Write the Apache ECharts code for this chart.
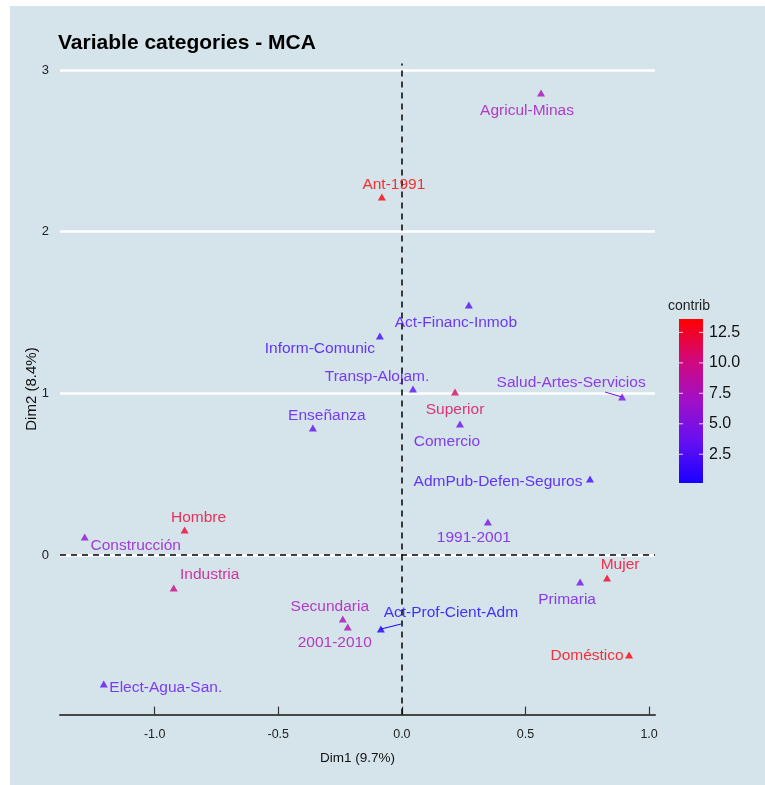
<!DOCTYPE html>
<html>
<head>
<meta charset="utf-8">
<script src="https://cdn.jsdelivr.net/npm/echarts@6/dist/echarts.min.js"></script>
<style>
  html, body { margin: 0; padding: 0; background: #ffffff; width: 765px; height: 785px; overflow: hidden; }
  #chart { position: absolute; left: 10px; top: 6px; width: 755px; height: 779px; background: #d5e4eb; }
</style>
</head>
<body>
<div id="chart"></div>
<script>
// ---- data ----
const categories = ['Agricul-Minas', 'Ant-1991', 'Act-Financ-Inmob', 'Inform-Comunic', 'Transp-Alojam.',
  'Superior', 'Salud-Artes-Servicios', 'Enseñanza', 'Comercio', 'AdmPub-Defen-Seguros', '1991-2001',
  'Hombre', 'Construcción', 'Industria', 'Mujer', 'Primaria', 'Secundaria', '2001-2010',
  'Act-Prof-Cient-Adm', 'Doméstico', 'Elect-Agua-San.'];
const dim1 = [0.563, -0.081, 0.271, -0.089, 0.045, 0.215, 0.891, -0.360, 0.235, 0.761, 0.348,
  -0.879, -1.283, -0.923, 0.830, 0.721, -0.239, -0.219, -0.085, 0.919, -1.206];
const dim2 = [2.858, 2.214, 1.546, 1.355, 1.027, 1.008, 0.977, 0.786, 0.810, 0.470, 0.204,
  0.155, 0.111, -0.204, -0.142, -0.167, -0.396, -0.445, -0.458, -0.619, -0.798];
const contrib = [7.3, 13.6, 2.6, 2.0, 3.2, 11.0, 4.8, 3.2, 3.8, 2.0, 4.5,
  12.2, 6.2, 9.8, 12.6, 4.4, 7.5, 7.8, 0.14, 13.3, 3.4];
const xTicks = [-1.0, -0.5, 0.0, 0.5, 1.0];
const yTicks = [0, 1, 2, 3];
const legendTicks = [2.5, 5.0, 7.5, 10.0, 12.5];

// ---- layout (label placement, like ggrepel) ----
const labelDx = [-14, 12, -13, -60, -36, 0, -51, 14, -13, -92, -14, 14, 51, 36, 13, -13, -13, -13, 70, -42, 62];
const labelDy = [18, -12, 18, 13, -12, 18, -14, -12, 18, 3, 16, -12, 9, -13, -13, 18, -12, 16, -16, 1, 4];
// repel segments: name -> pixel offset of the segment end relative to the point
const segmentEnds = { 'Salud-Artes-Servicios': [-17, -5], 'Act-Prof-Cient-Adm': [20, -5] };

const font = '"Liberation Sans", Arial, Helvetica, sans-serif';
const gradStops = ['#1a00ff', '#6410f2', '#a010c8', '#d2087a', '#ff0000'];
const cMin = Math.min(...contrib), cMax = Math.max(...contrib);

const chart = echarts.init(document.getElementById('chart'), null, { renderer: 'canvas' });

const points = categories.map((name, i) => ({
  name: name,
  value: [dim1[i], dim2[i], contrib[i]]
}));

// colour bar (legend) geometry
const bar = { x: 669, y: 313, w: 24, h: 164 };
const vToY = v => bar.y + bar.h - (v - cMin) / (cMax - cMin) * bar.h;
const legendGraphics = [
  { type: 'text', x: 658, y: 300, style: { text: 'contrib', font: '14px ' + font, fill: '#222', verticalAlign: 'middle' } },
  { type: 'rect', shape: { x: bar.x, y: bar.y, width: bar.w, height: bar.h },
    style: { fill: new echarts.graphic.LinearGradient(0, 1, 0, 0,
      gradStops.map((c, k) => ({ offset: k / (gradStops.length - 1), color: c }))) } }
];
legendTicks.forEach(t => {
  const y = vToY(t);
  legendGraphics.push({ type: 'line', shape: { x1: bar.x, y1: y, x2: bar.x + 4, y2: y }, style: { stroke: 'rgba(255,255,255,0.8)', lineWidth: 1 } });
  legendGraphics.push({ type: 'line', shape: { x1: bar.x + bar.w - 4, y1: y, x2: bar.x + bar.w, y2: y }, style: { stroke: 'rgba(255,255,255,0.8)', lineWidth: 1 } });
  legendGraphics.push({ type: 'text', x: bar.x + bar.w + 6, y: y, style: { text: t.toFixed(1), font: '16px ' + font, fill: '#111', verticalAlign: 'middle', align: 'left' } });
});

const colorOf = v => {
  const t = (v - cMin) / (cMax - cMin) * (gradStops.length - 1);
  const k = Math.min(Math.floor(t), gradStops.length - 2);
  return echarts.color.lerp(t - k, [gradStops[k], gradStops[k + 1]]);
};

chart.setOption({
  animation: false,
  backgroundColor: 'transparent',
  title: {
    text: 'Variable categories - MCA',
    left: 43, top: 22,
    textStyle: { fontFamily: font, fontWeight: 'bold', fontSize: 21, color: '#000' }
  },
  grid: { left: 50, right: 110, top: 57.5, bottom: 70.4 },
  xAxis: {
    type: 'value', min: -1.383, max: 1.024,
    name: 'Dim1 (9.7%)', nameLocation: 'middle', nameGap: 37,
    nameTextStyle: { fontFamily: font, fontSize: 13.5, color: '#111' },
    axisLine: { show: true, onZero: false, lineStyle: { color: '#474747', width: 2 } },
    axisTick: { show: true, inside: true, length: 8, customValues: xTicks, lineStyle: { color: '#333', width: 1.2 } },
    axisLabel: { customValues: xTicks, margin: 13, fontFamily: font, fontSize: 12.5, color: '#222',
      formatter: v => v.toFixed(1) },
    splitLine: { show: false }
  },
  yAxis: {
    type: 'value', min: -0.987, max: 3.04,
    name: 'Dim2 (8.4%)', nameLocation: 'middle', nameGap: 21, nameRotate: 90, nameMoveOverlap: false,
    nameTextStyle: { fontFamily: font, fontSize: 15, color: '#111' },
    axisLine: { show: false },
    axisTick: { show: false, customValues: yTicks },
    axisLabel: { customValues: yTicks, margin: 11, fontFamily: font, fontSize: 13, color: '#222' },
    splitLine: { show: false }
  },
  visualMap: {
    show: false, type: 'continuous', dimension: 2, min: cMin, max: cMax,
    inRange: { color: gradStops }, seriesIndex: 1
  },
  graphic: legendGraphics,
  series: [{
    // reference lines: white grid lines and dashed origin lines
    type: 'scatter', data: [], z: 1, silent: true,
    markLine: {
      silent: true, symbol: ['none', 'none'], label: { show: false },
      data: [
        ...yTicks.map(t => ({ yAxis: t, lineStyle: { color: '#ffffff', width: 2.5, type: 'solid' } })),
        { yAxis: 0, lineStyle: { color: '#000000', width: 1.5, type: [6, 5] } },
        { xAxis: 0, lineStyle: { color: '#000000', width: 1.5, type: [6, 5] } }
      ]
    }
  }, {
    type: 'scatter',
    z: 5,
    data: points,
    symbol: 'triangle',
    symbolSize: [8, 7],
    label: {
      show: true, position: 'inside', formatter: p => p.name, color: 'inherit',
      fontFamily: font, fontSize: 15.5
    },
    labelLayout: p => ({ dx: labelDx[p.dataIndex], dy: labelDy[p.dataIndex] })
  }]
});

// repel segments, anchored on the points through the axis scales
const segs = [];
Object.keys(segmentEnds).forEach(name => {
  const i = categories.indexOf(name);
  const p = chart.convertToPixel({ seriesIndex: 1 }, [dim1[i], dim2[i]]);
  const off = segmentEnds[name];
  segs.push({
    type: 'line', z: 10,
    shape: { x1: p[0], y1: p[1], x2: p[0] + off[0], y2: p[1] + off[1] },
    style: { stroke: colorOf(contrib[i]), lineWidth: 1 }
  });
});
chart.setOption({ graphic: legendGraphics.concat(segs) });
</script>
</body>
</html>
